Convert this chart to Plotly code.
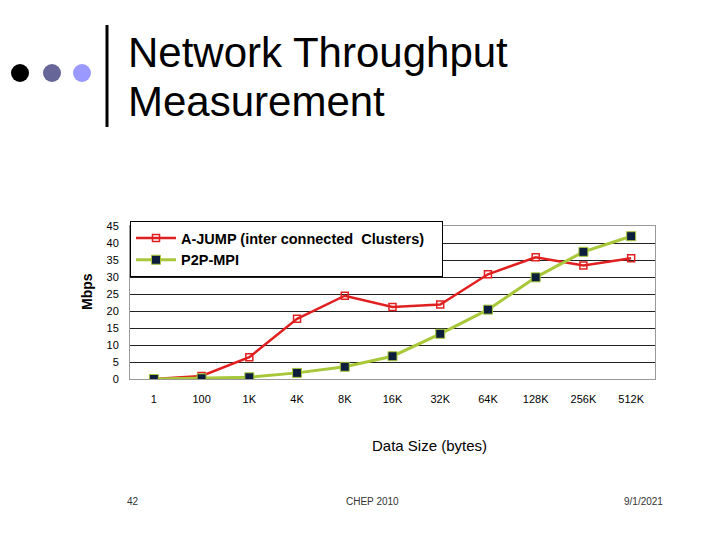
import plotly.graph_objects as go

categories = ["1", "100", "1K", "4K", "8K", "16K", "32K", "64K", "128K", "256K", "512K"]
ajump = [0.0, 0.9, 6.4, 17.7, 24.5, 21.2, 21.9, 30.8, 35.8, 33.4, 35.5]
p2pmpi = [0.0, 0.2, 0.5, 1.8, 3.6, 6.7, 13.3, 20.4, 29.9, 37.4, 42.0]
y_ticks = [0, 5, 10, 15, 20, 25, 30, 35, 40, 45]

fig = go.Figure()
fig.add_trace(go.Scatter(
    x=categories, y=ajump, name="<b>A-JUMP (inter connected  Clusters)</b>&nbsp;&nbsp;&nbsp;",
    mode="lines+markers",
    line=dict(color="#e02020", width=2.5),
    marker=dict(symbol="square-open", size=7, color="#e02020", line=dict(width=1.5)),
))
fig.add_trace(go.Scatter(
    x=categories, y=p2pmpi, name="<b>P2P-MPI</b>",
    mode="lines+markers",
    line=dict(color="#a8c83a", width=3),
    marker=dict(symbol="square", size=9, color="#0c1e3c", line=dict(color="#a8c83a", width=1)),
))

PX = lambda x: (x - 130) / 525
PY = lambda y: (379 - y) / 153

fig.update_layout(
    width=720, height=540,
    margin=dict(l=130, r=65, t=226, b=161),
    paper_bgcolor="white", plot_bgcolor="white",
    font=dict(family="Arial, Liberation Sans, sans-serif", color="black"),
    showlegend=True,
    legend=dict(
        x=0, y=PY(221), xanchor="left", yanchor="top",
        bgcolor="white", bordercolor="black", borderwidth=1,
        font=dict(size=14.5, color="black"),
        itemwidth=40, tracegroupgap=2,
    ),
    xaxis=dict(
        type="category", range=[-0.5, 10.5],
        showgrid=False, showline=True, linecolor="#999999", mirror=True,
        ticks="", tickfont=dict(size=11), ticklabelstandoff=10,
    ),
    yaxis=dict(
        range=[0, 45], tickvals=y_ticks,
        showgrid=True, gridcolor="#222222", gridwidth=1,
        showline=True, linecolor="#999999", mirror=True,
        zeroline=False, ticks="", tickfont=dict(size=11), ticklabelstandoff=8,
    ),
)

# Axis titles
fig.add_annotation(text="Data Size (bytes)", xref="paper", yref="paper",
                   x=PX(429), y=PY(445), xanchor="center", yanchor="middle",
                   showarrow=False, font=dict(size=15, color="black"))
fig.add_annotation(text="<b>Mbps</b>", xref="paper", yref="paper",
                   x=PX(87), y=PY(292), xanchor="center", yanchor="middle",
                   showarrow=False, textangle=-90, font=dict(size=14, color="black"))

# Slide decorations
for cx, col in [(20, "#000000"), (52, "#666699"), (82, "#9999ff")]:
    fig.add_shape(type="circle", xref="paper", yref="paper",
                  x0=PX(cx - 9), x1=PX(cx + 9),
                  y0=PY(82), y1=PY(64),
                  fillcolor=col, line=dict(width=0), layer="above")
fig.add_shape(type="line", xref="paper", yref="paper",
              x0=PX(107), x1=PX(107), y0=PY(127), y1=PY(25),
              line=dict(color="black", width=3))

for txt, yc in [("Network Throughput", 52), ("Measurement", 101)]:
    fig.add_annotation(text=txt, xref="paper", yref="paper",
                       x=PX(126), y=PY(yc), xanchor="left", yanchor="middle",
                       showarrow=False, align="left",
                       font=dict(size=42, color="black"))

for txt, xp in [("42", 133), ("CHEP 2010", 372), ("9/1/2021", 643)]:
    fig.add_annotation(text=txt, xref="paper", yref="paper",
                       x=PX(xp), y=PY(501),
                       xanchor="center", yanchor="middle", showarrow=False,
                       font=dict(size=10, color="#333333"))

fig.write_html("out.html")
